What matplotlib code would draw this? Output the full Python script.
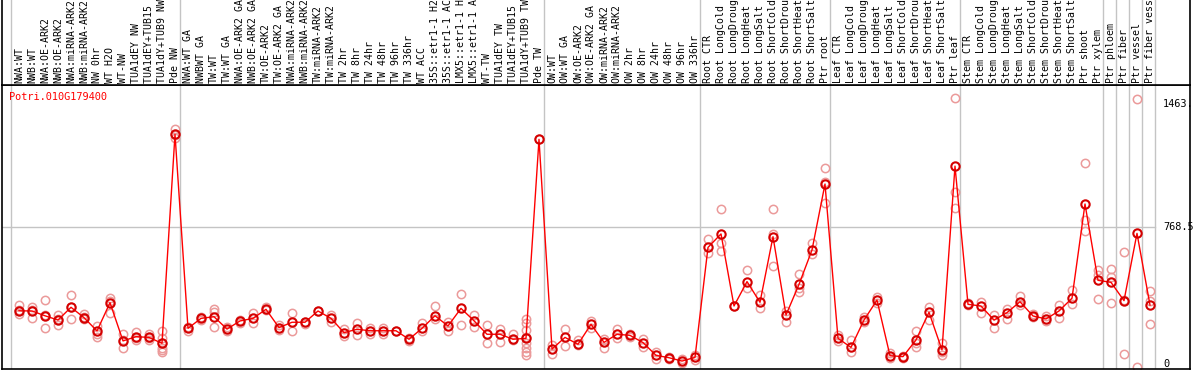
import matplotlib
matplotlib.use('Agg')
import matplotlib.pyplot as plt
import numpy as np

# -----------------------------------------------------------
# data
# -----------------------------------------------------------

gene = 'Potri.010G179400'

labels = [
    'NWA:WT', 'NWB:WT', 'NWA:OE-ARK2', 'NWB:OE-ARK2', 'NWA:miRNA-ARK2',
    'NWB:miRNA-ARK2', 'NW 0hr', 'WT H2O', 'WT-NW', 'TUA1dEY NW',
    'TUA1dEY+TUB15 NW', 'TUA1dY+TUB9 NW', 'Pde NW',
    'NWA:WT GA', 'NWBWT GA', 'TW:WT', 'TW:WT GA', 'NWA:OE-ARK2 GA',
    'NWB:OE-ARK2 GA', 'TW:OE-ARK2', 'TW:OE-ARK2 GA', 'NWA:miRNA-ARK2 GA',
    'NWB:miRNA-ARK2 GA', 'TW:miRNA-ARK2', 'TW:miRNA-ARK2 GA', 'TW 2hr',
    'TW 8hr', 'TW 24hr', 'TW 48hr', 'TW 96hr', 'TW 336hr', 'WT ACC',
    '35S::etr1-1 H2O', '35S::etr1-1 ACC', 'LMX5::etr1-1 H2O',
    'LMX5::etr1-1 ACC', 'WT-TW', 'TUA1dEY TW', 'TUA1dEY+TUB15 TW',
    'TUA1dY+TUB9 TW', 'Pde TW',
    'OW:WT', 'OW:WT GA', 'OW:OE-ARK2', 'OW:OE-ARK2 GA', 'OW:miRNA-ARK2',
    'OW:miRNA-ARK2 GA', 'OW 2hr', 'OW 8hr', 'OW 24hr', 'OW 48hr', 'OW 96hr',
    'OW 336hr',
    'Root CTR', 'Root LongCold', 'Root LongDrought', 'Root LongHeat',
    'Root LongSalt', 'Root ShortCold', 'Root ShortDrought', 'Root ShortHeat',
    'Root ShortSalt', 'Ptr root',
    'Leaf CTR', 'Leaf LongCold', 'Leaf LongDrought', 'Leaf LongHeat',
    'Leaf LongSalt', 'Leaf ShortCold', 'Leaf ShortDrought', 'Leaf ShortHeat',
    'Leaf ShortSalt', 'Ptr leaf',
    'Stem CTR', 'Stem LongCold', 'Stem LongDrought', 'Stem LongHeat',
    'Stem LongSalt', 'Stem ShortCold', 'Stem ShortDrought', 'Stem ShortHeat',
    'Stem ShortSalt', 'Ptr shoot',
    'Ptr xylem', 'Ptr phloem', 'Ptr fiber', 'Ptr vessel', 'Ptr fiber vessel',
]

means = [
    315, 314, 288, 265, 334, 278, 206, 359, 152, 175, 171, 139, 1270,
    220, 274, 283, 216, 260, 274, 323, 224, 253, 253, 314, 274, 197, 215,
    207, 207, 207, 161, 220, 288, 233, 328, 261, 188, 188, 161, 166, 1243,
    108, 171, 134, 242, 144, 188, 182, 143, 74, 61, 43, 63,
    658, 731, 341, 473, 361, 716, 292, 458, 644, 1001,
    166, 117, 265, 373, 72, 67, 157, 307, 103, 1098,
    350, 341, 265, 305, 364, 287, 271, 314, 383, 893,
    480, 469, 370, 734, 346,
]

reps = [
    [346, 297, 320], [337, 278, 320], [373, 220, 290], [291, 238, 268],
    [400, 270, 334], [298, 270, 280], [233, 175, 190], [383, 301, 370],
    [188, 112, 155], [202, 157, 170], [188, 157, 170],
    [207, 166, 139, 112, 103, 90], [1297, 1248, 1265],
    [205, 225], [265, 280], [323, 226, 310], [225, 208], [265, 250],
    [301, 247], [337, 320], [236, 212], [301, 206], [253, 245], [314],
    [292, 253], [215, 180], [247, 184], [222, 192], [220, 190], [207],
    [166, 150], [247, 205], [341, 268], [253, 208], [406, 238], [292, 230],
    [238, 139], [215, 148], [188, 155],
    [271, 247, 211, 175, 139, 112, 94, 76], [1243],
    [130, 79], [215, 126], [155, 130], [260, 222], [165, 115], [216, 170],
    [188, 175], [165, 120], [90, 55], [65, 55], [55, 30], [75, 50],
    [702, 626], [866, 684, 640], [341], [536, 437], [400, 328],
    [866, 730, 557], [315, 253], [514, 418, 440], [680, 620],
    [1086, 900, 1010],
    [185, 150], [157, 94], [282, 255], [391, 355], [85, 60], [70, 62],
    [207, 117, 140], [337, 265], [139, 76, 90], [1465, 960, 870],
    [355, 345], [360, 305], [290, 224], [325, 270], [395, 345], [295, 280],
    [285, 260], [346, 274], [428, 352], [1113, 806, 747],
    [536, 510, 377], [540, 500, 356], [631, 375, 79], [1459, 12],
    [422, 370, 242],
]

# group separators sit just after these indices
seps = [-1, 12, 40, 52, 62, 72, 83, 84, 85, 86, 87]

ymax = 1537.0
ytick_vals = [1463.8, 768.5, 0]
ytick_text = ['1463.', '768.5', '0']

# -----------------------------------------------------------
# layout (pixel based)
# -----------------------------------------------------------

W, H = 1194, 370
fig = plt.figure(figsize=(W / 100, H / 100), dpi=100)


def px_rect(x0, y0, x1, y1):
    return [x0 / W, 1 - y1 / H, (x1 - x0) / W, (y1 - y0) / H]


ax = fig.add_axes(px_rect(2, 85, 1190, 369))
hx = fig.add_axes(px_rect(2, 0, 1190, 85), sharex=ax)

x0px, step = 19, 13
xl = ((2 - x0px) / step, (1190 - x0px) / step)
ax.set_xlim(xl)
ax.set_ylim(0, ymax)
hx.set_ylim(0, 1)

mono = 'DejaVu Sans Mono'
gray = '#c4c4c4'

for a in (ax, hx):
    a.set_xticks([])
    a.set_yticks([])
    for s in a.spines.values():
        s.set_linewidth(1.2)
        s.set_color('black')
    for i in seps:
        a.axvline(i + 5 / step, color=gray, lw=1.0, zorder=0)
hx.spines['top'].set_visible(False)

# horizontal mid grid line, stops at the last separator
xend = (24 + 13 * 87 - 2) / 1188
ax.axhline(ymax / 2, xmin=0, xmax=xend, color=gray, lw=1.0, zorder=0)

# -----------------------------------------------------------
# plot
# -----------------------------------------------------------

x = np.arange(len(means))
rx = [i for i, r in enumerate(reps) for _ in r]
ry = [v for r in reps for v in r]

ax.plot(rx, ry, 'o', ms=6, mfc='none', mec='#eb9a9a', mew=1.1, zorder=2,
        clip_on=False)
ax.plot(x, means, '-', color='#ff0000', lw=1.0, zorder=3)
ax.plot(x, means, 'o', ms=6, mfc='none', mec='#d40000', mew=1.5, zorder=4)

for i, lab in enumerate(labels):
    hx.text(i, 2 / 85, lab, rotation=90, ha='center', va='bottom',
            fontsize=7.1, family=mono, color='black')

ax.text((9 - 2) / 1188, (369 - 97) / 284, gene, transform=ax.transAxes,
        ha='left', va='center', fontsize=7.4, family=mono, color='red')

ytr = ax.get_yaxis_transform()
vas = ['top', 'center', 'bottom']
for v, t, va in zip(ytick_vals, ytick_text, vas):
    ax.text((1163 - 2) / 1188, v, t, transform=ytr, ha='left', va=va,
            fontsize=7.4, family=mono, color='black', clip_on=False)

fig.savefig('out.png', dpi=100)
